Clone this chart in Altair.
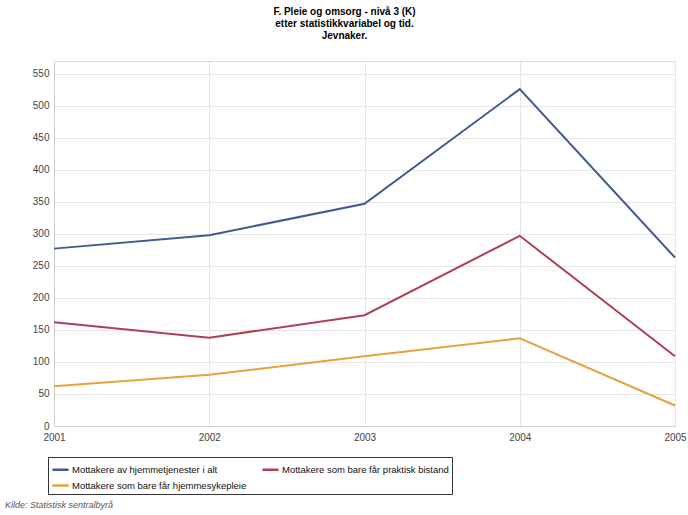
import altair as alt
import pandas as pd

years = ["2001", "2002", "2003", "2004", "2005"]
series_names = [
    "Mottakere av hjemmetjenester i alt",
    "Mottakere som bare får praktisk bistand",
    "Mottakere som bare får hjemmesykepleie",
]
alt_total = [277, 298, 347, 526, 263]
praktisk = [162, 138, 173, 297, 109]
sykepleie = [62, 80, 109, 137, 32]
colors = ["#3f5a8e", "#b03f52", "#e6a23c"]
y_ticks = list(range(0, 551, 50))

rows = []
for name, vals in zip(series_names, [alt_total, praktisk, sykepleie]):
    for yr, v in zip(years, vals):
        rows.append({"År": yr, "Statistikkvariabel": name, "Verdi": v})
df = pd.DataFrame(rows)

FONT = "Liberation Sans"
W, H = 621, 365

lines = alt.Chart(df).mark_line(strokeWidth=2).encode(
    x=alt.X("År:O", scale=alt.Scale(type="point", padding=0),
            axis=alt.Axis(title=None, labelAngle=0, grid=True, gridColor="#e6e6e6",
                          domainColor="#d0d0d0", ticks=False, labelPadding=6,
                          labelColor="#444444", labelFontSize=10, labelFont=FONT)),
    y=alt.Y("Verdi:Q", scale=alt.Scale(domain=[0, 570], nice=False),
            axis=alt.Axis(title=None, values=y_ticks, grid=True, gridColor="#e6e6e6",
                          domainColor="#d0d0d0", ticks=False, labelPadding=5,
                          labelColor="#444444", labelFontSize=10, labelFont=FONT)),
    color=alt.Color("Statistikkvariabel:N",
                    scale=alt.Scale(domain=series_names, range=colors),
                    legend=alt.Legend(title=None, orient="none", legendX=-6, legendY=396,
                                      direction="horizontal",
                                      columns=2, columnPadding=10, rowPadding=1,
                                      symbolType="stroke", symbolSize=260,
                                      symbolStrokeWidth=2.5,
                                      labelFontSize=9.5, labelFont=FONT, labelColor="#111111",
                                      labelLimit=400, labelOffset=2,
                                      strokeColor="#333333", fillColor="#ffffff",
                                      padding=3)),
)

source = alt.Chart(pd.DataFrame({"t": ["Kilde: Statistisk sentralbyrå"]})).mark_text(
    align="left", baseline="middle", fontStyle="italic", fontSize=9, font=FONT,
    color="#555555"
).encode(x=alt.value(-49), y=alt.value(H + 79), text="t:N")

chart = alt.layer(lines, source).properties(
    width=W, height=H,
    title=alt.TitleParams(
        text=["F. Pleie og omsorg - nivå 3 (K)", "etter statistikkvariabel og tid.", "Jevnaker."],
        fontSize=10, fontWeight="bold", font=FONT, anchor="middle", frame="group",
        dx=-20, offset=20, lineHeight=12, color="#000000"),
    padding={"left": 54, "top": 61, "right": 13, "bottom": 89},
    autosize=alt.AutoSizeParams(type="none"),
).configure_view(stroke="#dddddd")

chart.save("out.html", embed_options={"renderer": "svg", "actions": False})
